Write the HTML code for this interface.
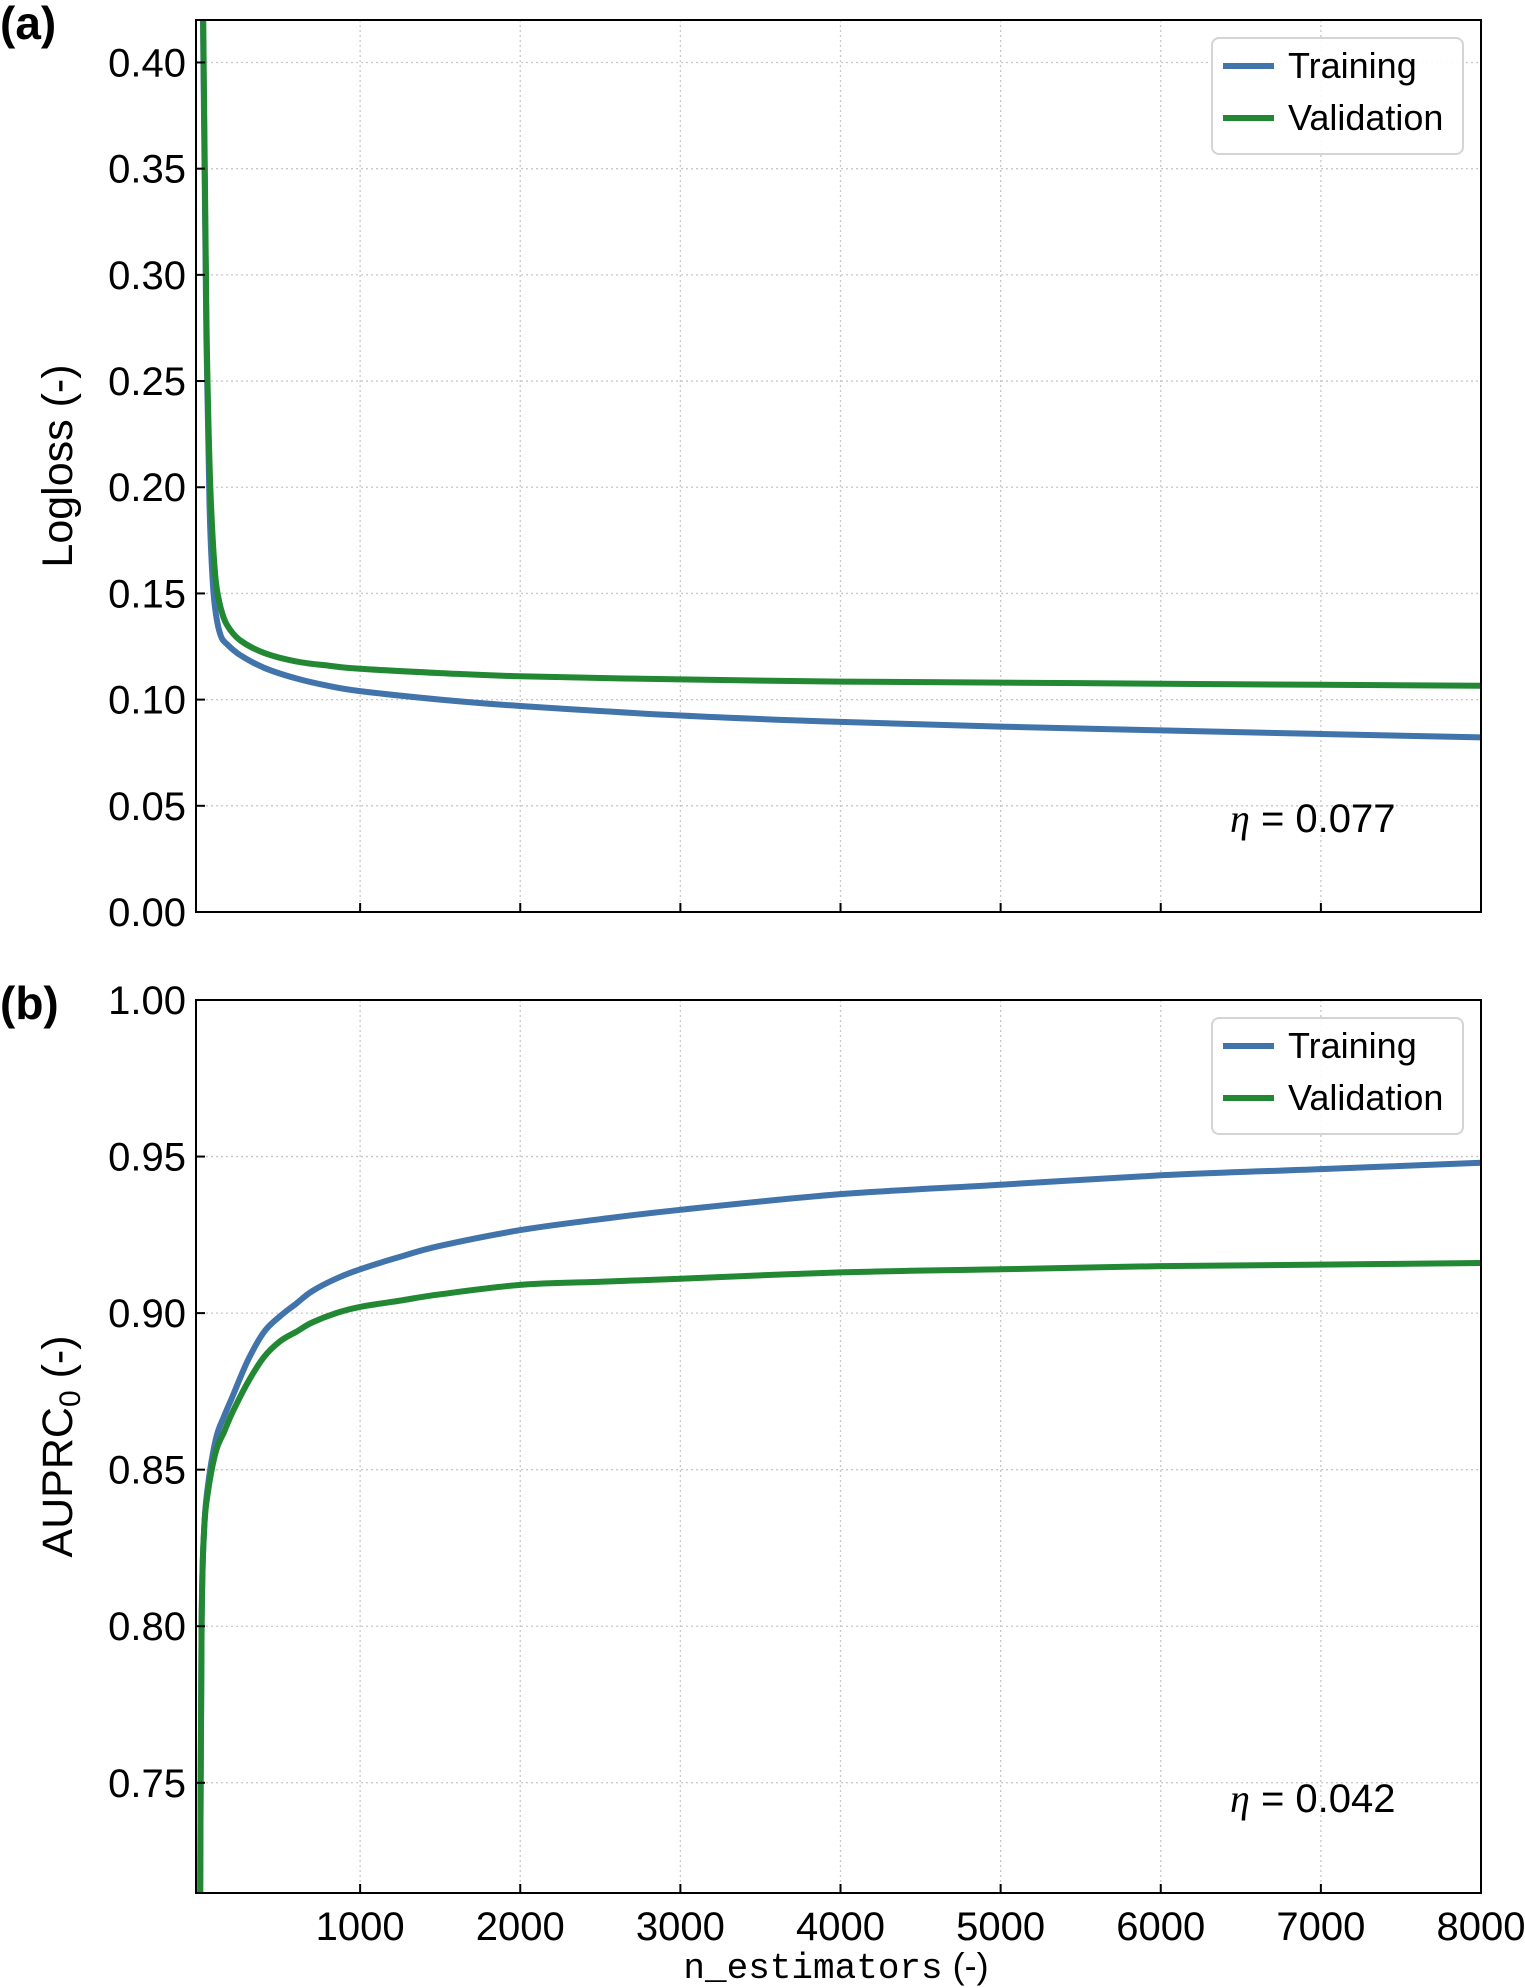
<!DOCTYPE html>
<html><head><meta charset="utf-8"><style>
html,body{margin:0;padding:0;background:#fff;}
svg{display:block;font-family:"Liberation Sans",Arial,sans-serif;}
</style></head><body>
<svg id="fig" width="1525" height="1988" viewBox="0 0 1525 1988" xmlns="http://www.w3.org/2000/svg">
<g id="root"></g>
</svg>
<script>
const xTicks=[1000,2000,3000,4000,5000,6000,7000,8000];
const xLabels=["1000","2000","3000","4000","5000","6000","7000","8000"];
const aYTicks=[0,0.05,0.10,0.15,0.20,0.25,0.30,0.35,0.40];
const aYLabels=["0.00","0.05","0.10","0.15","0.20","0.25","0.30","0.35","0.40"];
const bYTicks=[0.75,0.80,0.85,0.90,0.95,1.00];
const bYLabels=["0.75","0.80","0.85","0.90","0.95","1.00"];
const aX=[0,20,40,60,80,100,130,170,250,400,600,800,1000,1500,2000,3000,4000,5000,6000,7000,8000];
const aTrain=[0.60,0.41,0.27,0.19,0.155,0.14,0.13,0.126,0.121,0.115,0.110,0.1065,0.104,0.100,0.097,0.0925,0.0895,0.0873,0.0855,0.0838,0.0822];
const aVal=[0.60,0.42,0.28,0.21,0.175,0.155,0.143,0.135,0.128,0.122,0.118,0.116,0.1145,0.1125,0.111,0.1095,0.1085,0.108,0.1075,0.107,0.1065];
const bX=[0,10,25,50,100,150,200,300,400,500,600,700,850,1000,1250,1500,2000,2500,3000,4000,5000,6000,7000,8000];
const bTrain=[0.70,0.80,0.83,0.845,0.86,0.867,0.873,0.885,0.894,0.899,0.903,0.907,0.911,0.914,0.918,0.9215,0.9265,0.930,0.933,0.938,0.941,0.944,0.946,0.948];
const bVal=[0.70,0.80,0.83,0.843,0.856,0.862,0.868,0.878,0.886,0.891,0.894,0.897,0.900,0.902,0.904,0.906,0.909,0.910,0.911,0.913,0.914,0.915,0.9155,0.916];

const NS="http://www.w3.org/2000/svg";
const root=document.getElementById('root');
function mk(tag,attrs,parent,text){const e=document.createElementNS(NS,tag);for(const k in attrs)e.setAttribute(k,attrs[k]);if(text!==undefined)e.textContent=text;(parent||root).appendChild(e);return e;}
const L=196,R=1481,XMIN=-25,XMAX=8000;
function sx(v){return L+(v-XMIN)/(XMAX-XMIN)*(R-L);}
function smoothPath(P){
  let d='M'+P[0][0].toFixed(1)+','+P[0][1].toFixed(1);
  for(let i=0;i<P.length-1;i++){
    const p0=P[Math.max(0,i-1)],p1=P[i],p2=P[i+1],p3=P[Math.min(P.length-1,i+2)];
    const t=0.5/3;
    const c1=[p1[0]+(p2[0]-p0[0])*t,p1[1]+(p2[1]-p0[1])*t];
    const c2=[p2[0]-(p3[0]-p1[0])*t,p2[1]-(p3[1]-p1[1])*t];
    d+=' C'+c1[0].toFixed(1)+','+c1[1].toFixed(1)+' '+c2[0].toFixed(1)+','+c2[1].toFixed(1)+' '+p2[0].toFixed(1)+','+p2[1].toFixed(1);
  }
  return d;
}

function panel(id,top,bot,ymin,ymax,yT,yL,xs,tr,va,ylabel,eta,letter,showX){
  const sy=v=>bot-(v-ymin)/(ymax-ymin)*(bot-top);
  const g=mk('g',{});
  
  
  mk('clipPath',{id:'clip'+id},g);
  mk('rect',{x:L,y:top,width:R-L,height:bot-top},g.lastChild);
  xTicks.forEach(t=>{const l=mk('line',{x1:sx(t),x2:sx(t),y1:top,y2:bot,stroke:'#c8c8c8','stroke-width':1.3,'stroke-dasharray':'2,3'},g);
    });
  yT.forEach(t=>{const l=mk('line',{x1:L,x2:R,y1:sy(t),y2:sy(t),stroke:'#c8c8c8','stroke-width':1.3,'stroke-dasharray':'2,3'},g);
    });
  const cg=mk('g',{'clip-path':'url(#clip'+id+')'},g);
  [[tr,'#4174aa','training-line'],[va,'#228833','validation-line']].forEach(s=>{
    const P=xs.map((x,i)=>[sx(x),sy(s[0][i])]);
    const p=mk('path',{d:smoothPath(P),fill:'none',stroke:s[1],'stroke-width':6,'stroke-linejoin':'round'},cg);
    
  });
  const fr=mk('rect',{x:L,y:top,width:R-L,height:bot-top,fill:'none',stroke:'#000','stroke-width':2},g);
  
  xTicks.forEach((t,i)=>{mk('line',{x1:sx(t),x2:sx(t),y1:bot,y2:bot-9,stroke:'#000','stroke-width':2},g);
    if(showX){const tx=mk('text',{x:sx(t),y:bot+47,'text-anchor':'middle','font-size':40},g,xLabels[i]);
      }});
  yT.forEach((t,i)=>{mk('line',{x1:L,x2:L+9,y1:sy(t),y2:sy(t),stroke:'#000','stroke-width':2},g);
    const tx=mk('text',{x:186,y:sy(t)+14,'text-anchor':'end','font-size':40},g,yL[i]);
    });
  const cy=(top+bot)/2;
  const yl=mk('text',{x:0,y:0,transform:'translate(72,'+cy+') rotate(-90)','text-anchor':'middle','font-size':43},g);
  
  if(ylabel==='AUPRC'){yl.textContent='AUPRC';mk('tspan',{'font-size':30,dy:8},yl,'0');mk('tspan',{dy:-8},yl,' (-)');}
  else yl.textContent=ylabel;
  const lt=mk('text',{x:0,y:top+19,'font-size':46,'font-weight':'bold'},g,letter);
  
  const et=mk('text',{x:1230,y:top+812,'font-size':40},g);
  
  mk('tspan',{'font-family':'"Liberation Serif",serif','font-style':'italic'},et,'η');
  mk('tspan',{},et,' = '+eta);
  const lg=mk('g',{},g);
  
  mk('rect',{x:1212,y:top+18,width:251,height:116,rx:7,fill:'#fff','fill-opacity':0.9,stroke:'#d4d4d4','stroke-width':2},lg);
  [['Training','#4174aa',46],['Validation','#228833',98]].forEach(e=>{
    const eg=mk('g',{},lg);
    
    mk('line',{x1:1223,x2:1274,y1:top+e[2],y2:top+e[2],stroke:e[1],'stroke-width':6},eg);
    mk('text',{x:1288,y:top+e[2]+12,'font-size':36},eg,e[0]);
  });
}
panel('a',20,912,0,0.42,aYTicks,aYLabels,aX,aTrain,aVal,'Logloss (-)','0.077','(a)',false);
panel('b',1000,1893,0.7148,1.0,bYTicks,bYLabels,bX,bTrain,bVal,'AUPRC','0.042','(b)',true);
const xl=mk('text',{x:836,y:1978,'text-anchor':'middle','font-size':36});


mk('tspan',{'font-family':'"Liberation Mono",monospace'},xl,'n_estimators');
mk('tspan',{},xl,' (-)');
</script>
</body></html>
